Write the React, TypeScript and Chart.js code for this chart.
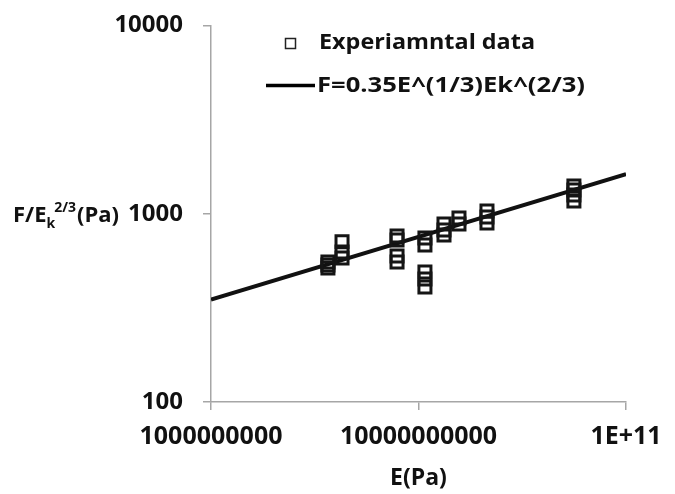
import React, { useEffect, useRef } from 'react';
import { Chart, registerables } from 'chart.js';

Chart.register(...registerables);

// Experimental data (E in Pa, F/Ek^(2/3) in Pa)
const expE = [
  3.66e9, 3.66e9, 3.66e9,
  4.28e9, 4.28e9, 4.28e9,
  7.88e9, 7.88e9, 7.88e9, 7.88e9,
  1.074e10, 1.074e10, 1.074e10, 1.074e10, 1.074e10,
  1.327e10, 1.327e10, 1.327e10,
  1.567e10, 1.567e10,
  2.138e10, 2.138e10, 2.138e10,
  5.61e10, 5.61e10, 5.61e10, 5.61e10,
];
const expF = [
  554, 534, 515,
  710, 626, 582,
  762, 726, 597, 554,
  743, 682, 491, 450, 408,
  883, 820, 771,
  949, 883,
  1035, 961, 893,
  1404, 1336, 1259, 1169,
];

// Fitted line F = 0.35 E^(1/3) Ek^(2/3)
const fitE = [1e9, 1e11];
const fitF = [350, 1625];

const xTicks = [1e9, 1e10, 1e11];
const xTickLabels = ['1000000000', '10000000000', '1E+11'];
const yTicks = [100, 1000, 10000];
const yTickLabels = ['100', '1000', '10000'];

const legendLabels = ['Experiamntal data', 'F=0.35E^(1/3)Ek^(2/3)'];
const xTitle = 'E(Pa)';
const yTitleParts = ['F/E', 'k', '2/3', '(Pa)'];

const FONT = '"Open Sans", "Liberation Sans", sans-serif';
const AXIS_GRAY = '#a6a6a6';

function fitText(ctx: CanvasRenderingContext2D, text: string, x: number, y: number, width: number) {
  const w = ctx.measureText(text).width;
  const sx = width / w;
  ctx.save();
  ctx.translate(x, y);
  ctx.scale(sx, 1);
  ctx.fillText(text, 0, 0);
  ctx.restore();
}

const overlayPlugin = {
  id: 'overlay',
  afterDraw(chart: any) {
    const ctx = chart.ctx as CanvasRenderingContext2D;
    ctx.save();
    ctx.textAlign = 'left';
    ctx.textBaseline = 'alphabetic';
    ctx.fillStyle = '#111';

    // Legend
    ctx.strokeStyle = '#222';
    ctx.lineWidth = 1.5;
    ctx.strokeRect(285.5, 38.5, 10, 10);
    ctx.font = `bold 21px ${FONT}`;
    fitText(ctx, legendLabels[0], 319, 48.5, 216);
    ctx.beginPath();
    ctx.moveTo(266, 85.5);
    ctx.lineTo(315, 85.5);
    ctx.lineWidth = 3.5;
    ctx.strokeStyle = '#000';
    ctx.stroke();
    fitText(ctx, legendLabels[1], 317, 92, 268);

    // Y title with subscript / superscript
    let x = 13;
    ctx.font = `bold 22px ${FONT}`;
    ctx.fillText(yTitleParts[0], x, 222);
    x += ctx.measureText(yTitleParts[0]).width;
    ctx.font = `bold 14px ${FONT}`;
    ctx.fillText(yTitleParts[1], x, 228);
    const kw = ctx.measureText(yTitleParts[1]).width;
    ctx.fillText(yTitleParts[2], x + kw - 1, 212);
    x += kw - 1 + ctx.measureText(yTitleParts[2]).width + 1;
    ctx.font = `bold 22px ${FONT}`;
    ctx.fillText(yTitleParts[3], x, 222);

    ctx.restore();
  },
};

export default function App() {
  const canvasRef = useRef<HTMLCanvasElement | null>(null);

  useEffect(() => {
    document.body.style.margin = '0';
    const canvas = canvasRef.current;
    if (!canvas) return;

    const chart = new Chart(canvas, {
      type: 'scatter',
      data: {
        datasets: [
          {
            label: legendLabels[0],
            data: expE.map((e, i) => ({ x: e, y: expF[i] })),
            pointStyle: 'rect',
            pointRadius: 8.5,
            pointBorderWidth: 3,
            borderColor: '#151515',
            backgroundColor: 'rgba(0,0,0,0)',
            showLine: false,
          },
          {
            label: legendLabels[1],
            data: fitE.map((e, i) => ({ x: e, y: fitF[i] })),
            showLine: true,
            borderColor: '#111',
            borderWidth: 4,
            pointRadius: 0,
            fill: false,
          },
        ],
      },
      options: {
        responsive: false,
        animation: false,
        layout: { padding: { top: 25.5, right: 49, left: 0, bottom: 0 } },
        plugins: {
          legend: { display: false },
          tooltip: { enabled: false },
        },
        scales: {
          x: {
            type: 'logarithmic',
            min: 1e9,
            max: 1e11,
            afterBuildTicks: (axis: any) => {
              axis.ticks = xTicks.map((v) => ({ value: v }));
            },
            afterFit: (s: any) => {
              s.height = 92;
              s.paddingLeft = 0;
              s.paddingRight = 0;
            },
            ticks: {
              autoSkip: false,
              maxRotation: 0,
              padding: 12,
              color: '#111',
              font: { family: FONT, size: 25, weight: 'bold' },
              callback: (v: any) => {
                const i = xTicks.indexOf(Number(v));
                return i >= 0 ? xTickLabels[i] : '';
              },
            },
            grid: {
              drawOnChartArea: false,
              drawTicks: true,
              tickLength: 8,
              color: AXIS_GRAY,
              lineWidth: 1.5,
            },
            border: { display: true, color: AXIS_GRAY, width: 1.5 },
            title: {
              display: true,
              text: xTitle,
              color: '#111',
              font: { family: FONT, size: 23, weight: 'bold' },
              padding: { top: 0, bottom: 2 },
            },
          },
          y: {
            type: 'logarithmic',
            min: 100,
            max: 10000,
            afterBuildTicks: (axis: any) => {
              axis.ticks = yTicks.map((v) => ({ value: v }));
            },
            afterFit: (s: any) => {
              s.width = 211;
              s.paddingTop = 0;
              s.paddingBottom = 0;
            },
            ticks: {
              autoSkip: false,
              padding: 20,
              color: '#111',
              font: { family: FONT, size: 24, weight: 'bold' },
              callback: (v: any) => {
                const i = yTicks.indexOf(Number(v));
                return i >= 0 ? yTickLabels[i] : '';
              },
            },
            grid: {
              drawOnChartArea: false,
              drawTicks: true,
              tickLength: 8,
              color: AXIS_GRAY,
              lineWidth: 1.5,
            },
            border: { display: true, color: AXIS_GRAY, width: 1.5 },
          },
        },
      },
      plugins: [overlayPlugin],
    } as any);

    return () => {
      chart.destroy();
    };
  }, []);

  return (
    <div style={{ width: 675, height: 494, position: 'relative', background: '#fff' }}>
      <canvas ref={canvasRef} width={675} height={494} style={{ display: 'block' }} />
    </div>
  );
}
